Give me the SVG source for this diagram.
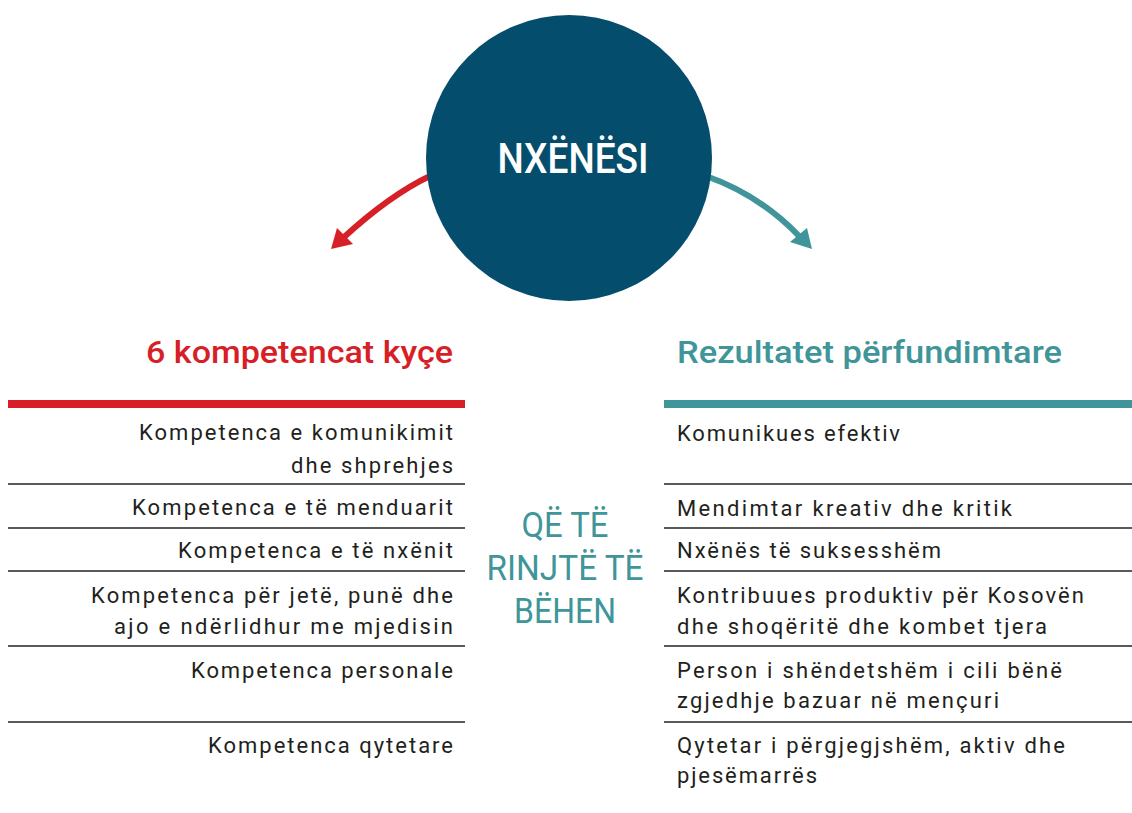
<svg xmlns="http://www.w3.org/2000/svg" width="1132" height="813" viewBox="0 0 1132 813">
<style>
.body{font-family:Roboto,"Liberation Sans",sans-serif;font-size:22px;fill:#231f20}
.r{text-anchor:end}
.head{font-family:Roboto,"Liberation Sans",sans-serif;font-size:31px;font-weight:500}
.mid{font-family:Roboto,"Liberation Sans",sans-serif;font-size:35px;fill:#3f9599;text-anchor:middle}
.sep{stroke:#222;stroke-width:1.5}
</style>
<rect width="1132" height="813" fill="#fff"/>
<g id="connectors">
<path d="M430,176 Q390,195 343,238" fill="none" stroke="#d71f27" stroke-width="6"/>
<polygon points="331,249 337,228 353,244" fill="#d71f27"/>
<path d="M706,176 Q760,195 800,237" fill="none" stroke="#3f9599" stroke-width="6"/>
<polygon points="812,249 807,228 790,242" fill="#3f9599"/>
</g>
<g id="node-nxenesi">
<circle cx="569" cy="158" r="143" fill="#054d6c"/>
<text x="573" y="173" font-family="Roboto,'Liberation Sans',sans-serif" font-size="42" font-weight="500" fill="#fff" text-anchor="middle" textLength="151" lengthAdjust="spacingAndGlyphs">NXËNËSI</text>
</g>
<g id="node-kompetencat">
<text class="head r" x="453" y="363" fill="#d71f27" textLength="307" lengthAdjust="spacingAndGlyphs">6 kompetencat kyçe</text>
<rect x="8" y="400" width="457" height="8" fill="#d71f27"/>
<text class="body r" x="453" y="440" textLength="314" lengthAdjust="spacing">Kompetenca e komunikimit</text>
<text class="body r" x="453" y="473" textLength="162" lengthAdjust="spacing">dhe shprehjes</text>
<line class="sep" x1="8" y1="484" x2="465" y2="484"/>
<text class="body r" x="453" y="515" textLength="321" lengthAdjust="spacing">Kompetenca e të menduarit</text>
<line class="sep" x1="8" y1="528" x2="465" y2="528"/>
<text class="body r" x="453" y="558" textLength="275" lengthAdjust="spacing">Kompetenca e të nxënit</text>
<line class="sep" x1="8" y1="571" x2="465" y2="571"/>
<text class="body r" x="453" y="603" textLength="362" lengthAdjust="spacing">Kompetenca për jetë, punë dhe</text>
<text class="body r" x="453" y="634" textLength="339" lengthAdjust="spacing">ajo e ndërlidhur me mjedisin</text>
<line class="sep" x1="8" y1="646" x2="465" y2="646"/>
<text class="body r" x="453" y="678" textLength="262" lengthAdjust="spacing">Kompetenca personale</text>
<line class="sep" x1="8" y1="722" x2="465" y2="722"/>
<text class="body r" x="453" y="753" textLength="245" lengthAdjust="spacing">Kompetenca qytetare</text>
</g>
<g id="node-middle">
<text class="mid" x="565" y="537" textLength="87" lengthAdjust="spacingAndGlyphs">QË TË</text>
<text class="mid" x="565" y="580" textLength="157" lengthAdjust="spacingAndGlyphs">RINJTË TË</text>
<text class="mid" x="565" y="623" textLength="102" lengthAdjust="spacingAndGlyphs">BËHEN</text>
</g>
<g id="node-rezultatet">
<text class="head" x="677" y="363" fill="#3f9599" textLength="385" lengthAdjust="spacingAndGlyphs">Rezultatet përfundimtare</text>
<rect x="664" y="400" width="468" height="8" fill="#3f9599"/>
<text class="body" x="677" y="441" textLength="223" lengthAdjust="spacing">Komunikues efektiv</text>
<line class="sep" x1="664" y1="484" x2="1132" y2="484"/>
<text class="body" x="677" y="516" textLength="335" lengthAdjust="spacing">Mendimtar kreativ dhe kritik</text>
<line class="sep" x1="664" y1="528" x2="1132" y2="528"/>
<text class="body" x="677" y="558" textLength="264" lengthAdjust="spacing">Nxënës të suksesshëm</text>
<line class="sep" x1="664" y1="571" x2="1132" y2="571"/>
<text class="body" x="677" y="603" textLength="407" lengthAdjust="spacing">Kontribuues produktiv për Kosovën</text>
<text class="body" x="677" y="634" textLength="370" lengthAdjust="spacing">dhe shoqëritë dhe kombet tjera</text>
<line class="sep" x1="664" y1="646" x2="1132" y2="646"/>
<text class="body" x="677" y="678" textLength="385" lengthAdjust="spacing">Person i shëndetshëm i cili bënë</text>
<text class="body" x="677" y="708" textLength="322" lengthAdjust="spacing">zgjedhje bazuar në mençuri</text>
<line class="sep" x1="664" y1="722" x2="1132" y2="722"/>
<text class="body" x="677" y="753" textLength="388" lengthAdjust="spacing">Qytetar i përgjegjshëm, aktiv dhe</text>
<text class="body" x="677" y="783" textLength="140" lengthAdjust="spacing">pjesëmarrës</text>
</g>
</svg>
